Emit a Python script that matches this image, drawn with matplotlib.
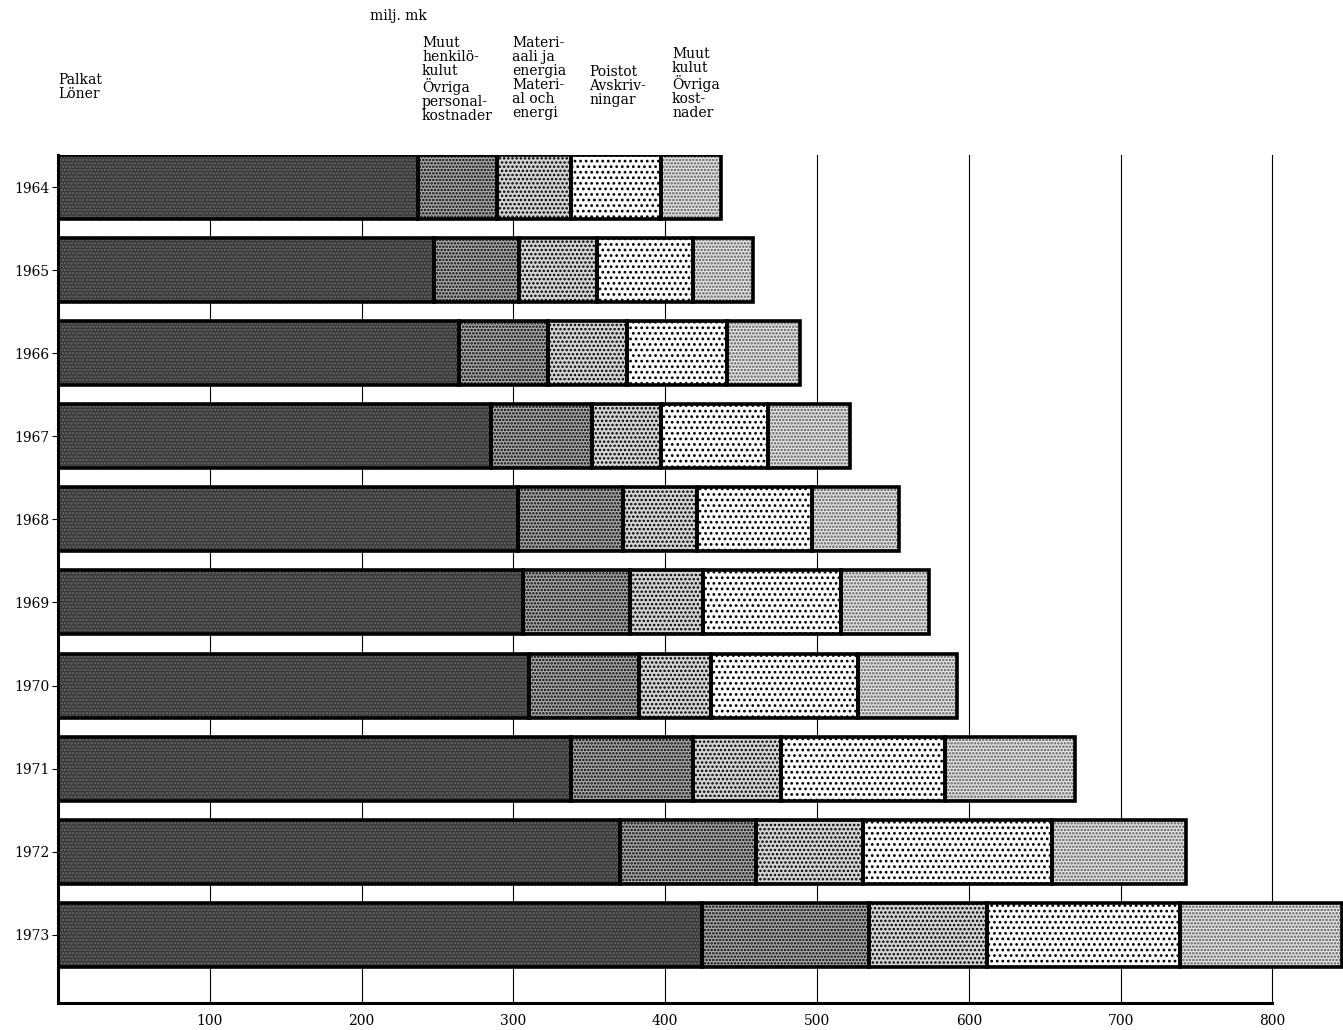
import matplotlib
matplotlib.use("Agg")
import matplotlib.pyplot as plt

# milj. mk, segment sizes per year
years = ["1964", "1965", "1966", "1967", "1968", "1969", "1970", "1971", "1972", "1973"]
palkat = [237, 248, 264, 285, 303, 306, 310, 338, 370, 424]
muut_henk = [52, 56, 59, 67, 69, 71, 73, 80, 90, 110]
materiaali = [49, 51, 52, 45, 49, 48, 47, 58, 70, 78]
poistot = [59, 63, 66, 71, 76, 91, 97, 108, 125, 127]
muut_kulut = [40, 40, 48, 54, 57, 58, 65, 86, 88, 107]

xticks = [100, 200, 300, 400, 500, 600, 700, 800]

plt.rcParams['font.family'] = ['DejaVu Serif']
plt.rcParams['hatch.linewidth'] = 1.2

fig = plt.figure(figsize=(13.43, 10.30), dpi=100)
ax = fig.add_axes([0.0432, 0.0262, 0.9568, 0.8233])

# face colour, hatch colour, hatch pattern
styles = [
    ("#363636", "#6a6a6a", "....."),
    ("#ababab", "black", "....."),
    ("#d4d4d4", "black", "...."),
    ("white", "black", "..."),
    ("#e6e6e6", "#555555", "....."),
]
series = [palkat, muut_henk, materiaali, poistot, muut_kulut]

pos = list(range(len(years)))
h = 0.77

for x in xticks:
    ax.axvline(x, color="black", lw=0.8, zorder=1)

left = [0] * len(years)
for vals, (fc, hc, hp) in zip(series, styles):
    ax.barh(pos, vals, left=left, height=h, color=fc, edgecolor=hc,
            hatch=hp, linewidth=0, zorder=2)
    ax.barh(pos, vals, left=left, height=h, fill=False, edgecolor="black",
            linewidth=2.6, zorder=3)
    left = [a + b for a, b in zip(left, vals)]

ax.set_xlim(0, 846.5)
ax.set_ylim(9.82, -0.385)

for s in ax.spines.values():
    s.set_visible(False)
ax.plot([0, 0], [9.82, -0.385], color="black", lw=2.2, zorder=4, clip_on=False)
ax.plot([0, 800], [9.82, 9.82], color="black", lw=2.2, zorder=4, clip_on=False)

ax.set_yticks(pos)
ax.set_yticklabels(years, fontsize=10)
ax.tick_params(axis="y", length=4, width=0.8, pad=2)
ax.set_xticks(xticks)
ax.set_xticklabels([str(t) for t in xticks], fontsize=10)
ax.tick_params(axis="x", length=0, pad=8)

# header labels
def lab(px, py, s):
    fig.text(px / 1343, 1 - py / 1030, s, fontsize=10, va="top", ha="left",
             linespacing=1.0)

lab(370, 9, "milj. mk")
lab(58, 73, "Palkat\nLöner")
lab(422, 36, "Muut\nhenkilö-\nkulut\nÖvriga\npersonal-\nkostnader")
lab(512, 36, "Materi-\naali ja\nenergia\nMateri-\nal och\nenergi")
lab(589, 65, "Poistot\nAvskriv-\nningar")
lab(672, 47, "Muut\nkulut\nÖvriga\nkost-\nnader")

fig.savefig("out.png", dpi=100)
